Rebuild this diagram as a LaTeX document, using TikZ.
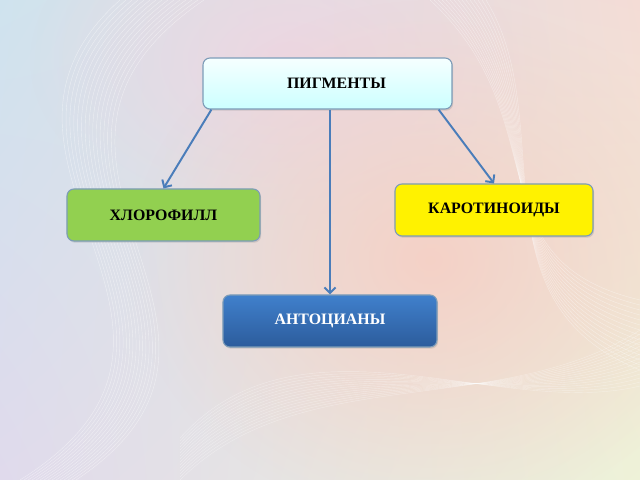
\documentclass[tikz,border=0pt]{standalone}
\usepackage{fontspec}
\setmainfont{Liberation Serif}
\usetikzlibrary{arrows.meta,calc,shadows,shadings,fadings}
\definecolor{bgsky}{HTML}{CFE3EE}
\definecolor{bgpeach}{HTML}{F4DCD6}
\definecolor{bglilac}{HTML}{E0DAEC}
\definecolor{bglime}{HTML}{EEF2D8}
\definecolor{bgsalmon}{HTML}{F6CFC4}
\definecolor{bgpink}{HTML}{EED6E2}
\definecolor{boxedge}{HTML}{7D9CB8}
\definecolor{linkblue}{HTML}{4A7DBA}
\definecolor{leafgreen}{HTML}{92D050}
\tikzfading[name=softspot,inner color=transparent!0,outer color=transparent!100]

\begin{document}
\begin{tikzpicture}[>={Straight Barb[length=4pt,width=8pt]},x=0.025cm,y=-0.025cm,
  pigbox/.style={draw=boxedge,line width=0.8pt,rounded corners=5pt,
    font=\bfseries\fontsize{11.3}{13}\selectfont,inner sep=0pt,
    drop shadow={shadow xshift=0.8pt,shadow yshift=-1.2pt,opacity=0.25}},
  link/.style={->,draw=linkblue,line width=1.4pt}]
  % Hintergrund
  \useasboundingbox (0,0) rectangle (640,480);
  \shade[upper left=bgsky,upper right=bgpeach,lower left=bglilac,lower right=bglime]
    (0,0) rectangle (640,480);
  \fill[bgpink,opacity=0.9,path fading=softspot] (290,60) ellipse (260 and 170);
  \fill[bgsalmon,opacity=0.9,path fading=softspot] (430,260) ellipse (300 and 260);
  \foreach \i in {0,...,14} {
    \draw[white,opacity=0.45,line width=0.3pt]
      (20+\i*4,480) .. controls (260+\i*3,330) and (-60+\i*2,160) .. (120+\i*6,0);
    \draw[white,opacity=0.4,line width=0.3pt]
      (640,300+\i*5) .. controls (470,260+\i*3) and (560,120) .. (430+\i*4,0);
    \draw[white,opacity=0.35,line width=0.3pt]
      (180,480-\i*3) .. controls (300,360-\i*4) and (500,420) .. (640,330+\i*4);
  }

  % Kaesten
  \node[pigbox,top color=white!75!cyan!15,bottom color=cyan!20,
    minimum width=6.225cm,minimum height=1.275cm] (pig) at (327.5,83.5)
    {\hspace{0.45cm}ПИГМЕНТЫ};
  \node[pigbox,fill=leafgreen,minimum width=4.825cm,minimum height=1.3cm]
    (chl) at (163.5,215) {ХЛОРОФИЛЛ};
  \node[pigbox,fill=yellow,minimum width=4.95cm,minimum height=1.3cm]
    (car) at (494,210) {КАРОТИНОИДЫ};
  \node[pigbox,top color={rgb,255:red,64;green,128;blue,204},
    bottom color={rgb,255:red,44;green,92;blue,156},text=white,
    minimum width=5.35cm,minimum height=1.3cm] (ant) at (330,321) {АНТОЦИАНЫ};

  % Pfeile
  \draw[link] ($(pig.south west)+(9,0)$) -- (chl.north);
  \draw[link] (ant.north |- pig.south) -- (ant.north);
  \draw[link] ($(pig.south east)+(-14,0)$) -- (car.north);
\end{tikzpicture}
\end{document}
